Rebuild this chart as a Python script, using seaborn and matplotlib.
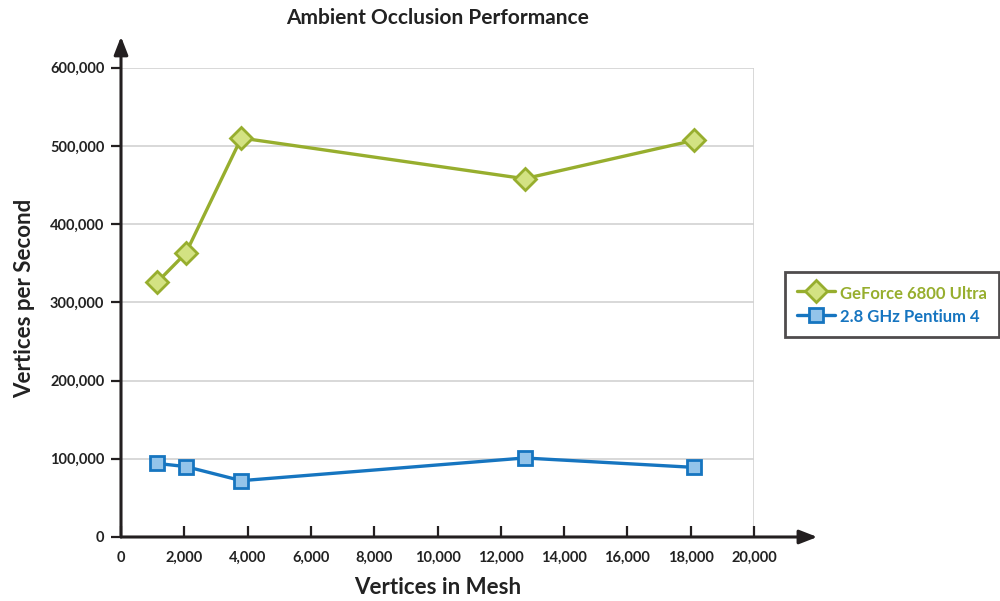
import numpy as np
import pandas as pd
import matplotlib
matplotlib.use("Agg")
import matplotlib.pyplot as plt
from matplotlib.lines import Line2D
from matplotlib.ticker import FuncFormatter
import seaborn as sns

# --- data ---
vertices_in_mesh = [1150, 2050, 3800, 12750, 18100]
gpu_vps = [326000, 363000, 510000, 458000, 507000]
cpu_vps = [94000, 90000, 72000, 101000, 89000]
gpu_label = "GeForce 6800 Ultra"
cpu_label = "2.8 GHz Pentium 4"

x_ticks = list(range(0, 20001, 2000))
y_ticks = list(range(0, 600001, 100000))

GREEN_LINE = "#97ae2e"
GREEN_FILL = "#d3e282"
BLUE_LINE = "#1675c0"
BLUE_FILL = "#93c4ea"
AXIS_COL = "#231f20"
GRID_COL = "#d2d2d2"

sns.set_theme(style="white")
plt.rcParams["font.family"] = ["Lato", "DejaVu Sans"]
plt.rcParams["font.weight"] = "bold"

df_gpu = pd.DataFrame({"x": vertices_in_mesh, "y": gpu_vps})
df_cpu = pd.DataFrame({"x": vertices_in_mesh, "y": cpu_vps})

fig = plt.figure(figsize=(10, 6.01), dpi=100)
ax = fig.add_axes([0.121, 0.1065, 0.633, 0.781])

# grid first so it sits under the lines
for yv in y_ticks[1:]:
    ax.axhline(yv, color=GRID_COL, lw=1.2, zorder=0)
ax.axvline(20000, color=GRID_COL, lw=1.2, zorder=0)

sns.lineplot(data=df_gpu, x="x", y="y", ax=ax, color=GREEN_LINE, lw=2.4,
             marker="D", markersize=11, markerfacecolor=GREEN_FILL,
             markeredgecolor=GREEN_LINE, markeredgewidth=2, zorder=3)
sns.lineplot(data=df_cpu, x="x", y="y", ax=ax, color=BLUE_LINE, lw=2.4,
             marker="s", markersize=10, markerfacecolor=BLUE_FILL,
             markeredgecolor=BLUE_LINE, markeredgewidth=2, zorder=3)

ax.set_xlim(0, 20000)
ax.set_ylim(0, 600000)
ax.set_xticks(x_ticks)
ax.set_yticks(y_ticks)
fmt = FuncFormatter(lambda v, p: f"{int(v):,}")
ax.xaxis.set_major_formatter(fmt)
ax.yaxis.set_major_formatter(fmt)

for s in ["top", "right", "left", "bottom"]:
    ax.spines[s].set_visible(False)

ax.tick_params(axis="y", direction="out", length=7, width=1.6, color=AXIS_COL,
               labelsize=10.5, labelcolor="#222222", pad=5, left=True)
ax.tick_params(axis="x", direction="in", length=8, width=1.6, color=AXIS_COL,
               labelsize=10.5, labelcolor="#222222", pad=10, bottom=True)
for lab in ax.get_xticklabels() + ax.get_yticklabels():
    lab.set_fontweight("bold")

# axis lines with arrow heads
arrow_kw = dict(arrowstyle="-|>,head_length=0.9,head_width=0.35", lw=2.2,
                color=AXIS_COL, shrinkA=0, shrinkB=0)
ax.annotate("", xy=(1.1, 0), xytext=(0, 0), xycoords="axes fraction",
            arrowprops=arrow_kw, annotation_clip=False)
ax.annotate("", xy=(0, 1.066), xytext=(0, 0), xycoords="axes fraction",
            arrowprops=arrow_kw, annotation_clip=False)

ax.set_xlabel("")
ax.set_ylabel("")
fig.text(0.438, 1 - 588 / 601, "Vertices in Mesh", ha="center", va="center",
         fontsize=16, fontweight="bold", color="#222222")
fig.text(0.025, 1 - 298 / 601, "Vertices per Second", ha="center", va="center",
         rotation=90, fontsize=16, fontweight="bold", color="#222222")
fig.text(0.438, 1 - 18 / 601, "Ambient Occlusion Performance", ha="center",
         va="center", fontsize=15, fontweight="bold", color="#222222")

handles = [
    Line2D([], [], color=GREEN_LINE, lw=2.4, marker="D", markersize=11,
           markerfacecolor=GREEN_FILL, markeredgecolor=GREEN_LINE, markeredgewidth=2),
    Line2D([], [], color=BLUE_LINE, lw=2.4, marker="s", markersize=10,
           markerfacecolor=BLUE_FILL, markeredgecolor=BLUE_LINE, markeredgewidth=2),
]
leg = fig.legend(handles, [gpu_label, cpu_label], loc="center left",
                 bbox_to_anchor=(0.785, 0.493), bbox_transform=fig.transFigure,
                 frameon=True, fancybox=False, handlelength=2.3, handletextpad=0.3,
                 handleheight=1.3, borderpad=0.7, labelspacing=0.3, borderaxespad=0,
                 prop={"weight": "bold", "size": 12})
leg.get_frame().set_edgecolor(AXIS_COL)
leg.get_frame().set_linewidth(2)
for txt, col in zip(leg.get_texts(), [GREEN_LINE, BLUE_LINE]):
    txt.set_color(col)

fig.savefig("out.png", dpi=100, facecolor="white")
